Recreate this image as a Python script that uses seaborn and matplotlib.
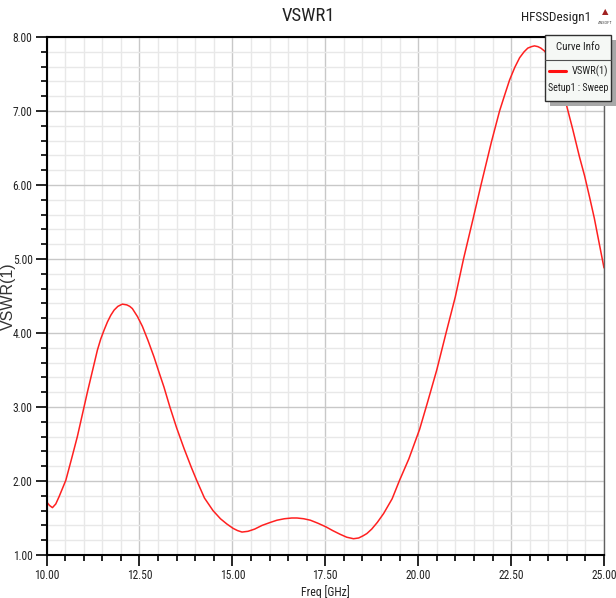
import numpy as np
import pandas as pd
import matplotlib
matplotlib.use("Agg")
import matplotlib.pyplot as plt
from matplotlib import font_manager as fm
from matplotlib.ticker import MultipleLocator, FormatStrFormatter
from matplotlib.patches import Rectangle
from matplotlib.lines import Line2D
import seaborn as sns

# Courbe VSWR(1)
freq_ghz = [10.00, 10.08, 10.16, 10.25, 10.34, 10.43, 10.52, 10.60, 10.69, 10.83,
            10.92, 11.01, 11.10, 11.19, 11.28, 11.37, 11.46, 11.55, 11.64, 11.73,
            11.82, 11.92, 12.04, 12.16, 12.24, 12.31, 12.45, 12.58, 12.73, 12.89,
            13.02, 13.16, 13.32, 13.50, 13.70, 13.90, 14.04, 14.25, 14.48, 14.68,
            14.85, 15.02, 15.14, 15.26, 15.42, 15.60, 15.80, 16.02, 16.20, 16.40,
            16.60, 16.74, 16.92, 17.10, 17.30, 17.52, 17.70, 17.90, 18.08, 18.26,
            18.40, 18.52, 18.62, 18.75, 18.90, 19.07, 19.30, 19.50, 19.75, 20.04,
            20.25, 20.50, 20.75, 21.00, 21.22, 21.49, 21.69, 21.97, 22.19, 22.33,
            22.46, 22.60, 22.73, 22.85, 22.95, 23.05, 23.13, 23.22, 23.30, 23.40,
            23.50, 23.62, 23.75, 23.86, 23.98, 24.16, 24.34, 24.48, 24.61, 24.74,
            24.86, 25.00]
vswr = [1.72, 1.67, 1.64, 1.69, 1.79, 1.90, 2.01, 2.16, 2.33, 2.60,
        2.80, 3.00, 3.20, 3.39, 3.58, 3.77, 3.92, 4.04, 4.15, 4.24,
        4.31, 4.36, 4.39, 4.38, 4.36, 4.33, 4.22, 4.09, 3.90, 3.68,
        3.48, 3.27, 3.00, 2.72, 2.44, 2.18, 2.01, 1.77, 1.60, 1.49,
        1.42, 1.36, 1.33, 1.31, 1.32, 1.35, 1.40, 1.44, 1.47, 1.49,
        1.50, 1.50, 1.49, 1.47, 1.43, 1.38, 1.33, 1.28, 1.24, 1.22,
        1.23, 1.26, 1.29, 1.35, 1.44, 1.56, 1.76, 2.01, 2.30, 2.70,
        3.06, 3.50, 4.00, 4.49, 5.00, 5.57, 6.00, 6.58, 7.00, 7.22,
        7.42, 7.59, 7.72, 7.80, 7.85, 7.87, 7.88, 7.87, 7.85, 7.81,
        7.75, 7.64, 7.48, 7.30, 7.10, 6.75, 6.38, 6.12, 5.84, 5.55,
        5.24, 4.88]

df = pd.DataFrame({"Freq [GHz]": freq_ghz, "VSWR(1)": vswr})

sns.set_theme(style="white")

# police étroite si dispo, sinon Liberation Sans un peu plus petite
dispo = {f.name for f in fm.fontManager.ttflist}
etroites = [n for n in ["Liberation Sans Narrow", "Arial Narrow", "Roboto Condensed"] if n in dispo]
if etroites:
    plt.rcParams['font.family'] = [etroites[0], 'DejaVu Sans']
    k = 1.0
else:
    plt.rcParams['font.family'] = ['Liberation Sans', 'DejaVu Sans']
    k = 0.84

fig = plt.figure(figsize=(6.16, 5.98), dpi=100)
W, H = 616, 598
ax = fig.add_axes([46.5 / W, 43 / H, (604 - 46.5) / W, (555 - 37) / H])

sns.lineplot(data=df, x="Freq [GHz]", y="VSWR(1)", color="#ff2020", linewidth=1.1, ax=ax)

ax.set_xlim(10, 25)
ax.set_ylim(1, 8)
ax.xaxis.set_major_locator(MultipleLocator(2.5))
ax.xaxis.set_minor_locator(MultipleLocator(0.5))
ax.yaxis.set_major_locator(MultipleLocator(1))
ax.yaxis.set_minor_locator(MultipleLocator(0.2))
ax.xaxis.set_major_formatter(FormatStrFormatter("%.2f"))
ax.yaxis.set_major_formatter(FormatStrFormatter("%.2f"))

ax.grid(which="major", color="#c8c8c8", linewidth=1.0)
ax.grid(which="minor", color="#e8e8e8", linewidth=1.0)
ax.set_axisbelow(True)

ax.tick_params(which="major", direction="out", length=8, width=1.2, color="black",
               labelsize=8.3 * k, pad=2, labelcolor="#222222", left=True, bottom=True)
ax.tick_params(which="minor", direction="out", length=4.5, width=1.2, color="black",
               left=True, bottom=True)

for side in ["left", "bottom", "top"]:
    ax.spines[side].set_color("black")
    ax.spines[side].set_linewidth(1.5)
ax.spines["right"].set_color("#606060")
ax.spines["right"].set_linewidth(1.0)

ax.set_xlabel("Freq [GHz]", fontsize=8.5 * k, labelpad=2, color="#222222")
# le titre de l'axe y est plus large dans l'image
ax.set_ylabel("VSWR(1)", fontsize=11.5, color="#333333", family=['Liberation Sans', 'DejaVu Sans'])
ax.yaxis.set_label_coords(-0.055, 0.5)

fig.text(308 / W, 1 - 16 / H, "VSWR1", ha="center", va="center", fontsize=13.5 * k, color="#222222")
fig.text(556 / W, 1 - 17.5 / H, "HFSSDesign1", ha="center", va="center", fontsize=9.5 * k, color="#222222")

# petit logo ANSOFT
fig.text(605 / W, 1 - 12 / H, "\u25B2", ha="center", va="center", fontsize=6,
         color="#a02020", family="DejaVu Sans")
fig.text(605 / W, 1 - 22.5 / H, "ANSOFT", ha="center", va="center", fontsize=3.2, color="#444444")

# boîte Curve Info
bx0, bx1, by0, by1 = 545, 611, 35, 101
fig.patches.append(Rectangle(((bx0 + 5) / W, 1 - (by1 + 5) / H), (bx1 - bx0) / W, (by1 - by0) / H,
                             transform=fig.transFigure, facecolor="#a8a8a8", edgecolor="none", zorder=5))
fig.patches.append(Rectangle((bx0 / W, 1 - by1 / H), (bx1 - bx0) / W, (by1 - by0) / H,
                             transform=fig.transFigure, facecolor="#f5f8f5", edgecolor="#303030",
                             linewidth=1.0, zorder=6))
fig.lines.append(Line2D([bx0 / W, bx1 / W], [1 - 60 / H, 1 - 60 / H], transform=fig.transFigure,
                        color="#505050", linewidth=0.8, zorder=7))
fig.text((bx0 + bx1) / 2 / W, 1 - 47.5 / H, "Curve Info", ha="center", va="center", fontsize=7.8 * k,
         color="#222222", zorder=8)
fig.lines.append(Line2D([549 / W, 566 / W], [1 - 70.5 / H, 1 - 70.5 / H], transform=fig.transFigure,
                        color="#ff1010", linewidth=2.2, zorder=8))
fig.text(608 / W, 1 - 71 / H, "VSWR(1)", ha="right", va="center", fontsize=7.6 * k, color="#222222", zorder=8)
fig.text(578 / W, 1 - 88 / H, "Setup1 : Sweep", ha="center", va="center", fontsize=7.2 * k,
         color="#222222", zorder=8)

fig.savefig("out.png", dpi=100)
